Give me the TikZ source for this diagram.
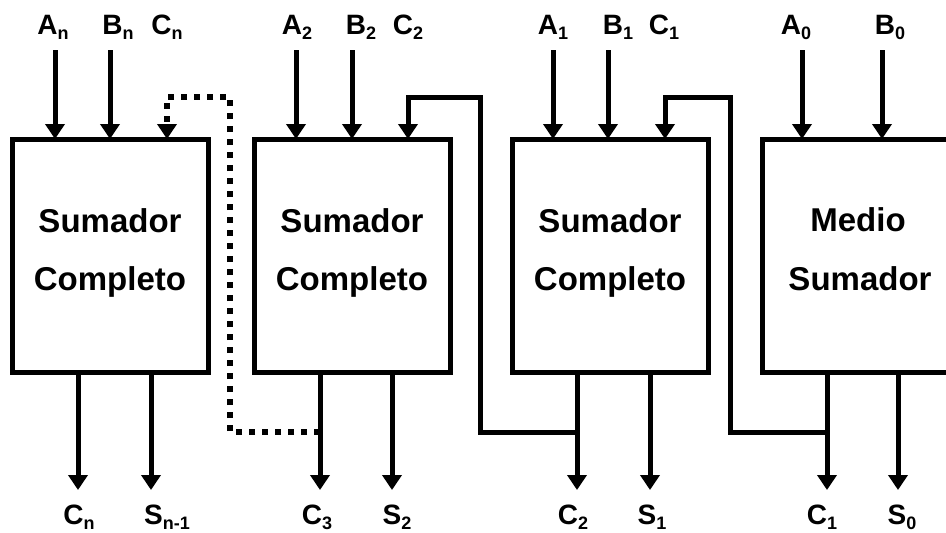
\documentclass[tikz,border=0pt]{standalone}
\usepackage{fontspec}
\setmainfont{Liberation Sans}
\usetikzlibrary{arrows.meta}
\tikzset{
 blk/.style={draw, line width=5pt, minimum width=196pt, minimum height=233pt, inner sep=0pt, outer sep=0pt},
 btxt/.style={anchor=base, inner sep=0pt, font=\fontsize{33}{40}\selectfont\bfseries},
 wire/.style={line width=5pt, line join=miter},
 sig/.style={wire, -{Triangle[width=19pt,length=15pt]}},
 dotwire/.style={line width=6pt, dash pattern=on 6pt off 7pt, -{Triangle[width=19pt,length=15pt]}},
 lbl/.style={anchor=base, inner sep=0pt, font=\fontsize{28}{32}\selectfont\bfseries},
}
\newcommand{\sbx}[1]{\raisebox{-5pt}{\fontsize{18}{18}\selectfont #1}}
\begin{document}
\begin{tikzpicture}[x=1pt,y=-1pt]
\useasboundingbox (0,0) rectangle (946,533);
\clip (0,0) rectangle (946,533);
% blocks
\node[blk] (b1) at (110,255.5) {};
\node[blk] (b2) at (352,255.5) {};
\node[blk] (b3) at (610,255.5) {};
\node[blk] (b4) at (860,255.5) {};
\node[btxt] (t1a) at (110,232) {Sumador};
\node[btxt] (t1b) at (110,290) {Completo};
\node[btxt] (t2a) at (352,232) {Sumador};
\node[btxt] (t2b) at (352,290) {Completo};
\node[btxt] (t3a) at (610,232) {Sumador};
\node[btxt] (t3b) at (610,290) {Completo};
\node[btxt] (t4a) at (858,231) {Medio};
\node[btxt] (t4b) at (860,290) {Sumador};
% top labels
\node[lbl] (tA1) at (53,34) {A\sbx{n}};
\node[lbl] (tB1) at (118,34) {B\sbx{n}};
\node[lbl] (tC1) at (167,34) {C\sbx{n}};
\node[lbl] (tA2) at (297,34) {A\sbx{2}};
\node[lbl] (tB2) at (361,34) {B\sbx{2}};
\node[lbl] (tC2) at (408,34) {C\sbx{2}};
\node[lbl] (tA3) at (553,34) {A\sbx{1}};
\node[lbl] (tB3) at (618,34) {B\sbx{1}};
\node[lbl] (tC3) at (664,34) {C\sbx{1}};
\node[lbl] (tA4) at (796,34) {A\sbx{0}};
\node[lbl] (tB4) at (890,34) {B\sbx{0}};
% bottom labels
\node[lbl] (bC1) at (79,524) {C\sbx{n}};
\node[lbl] (bS1) at (167,524) {S\sbx{n-1}};
\node[lbl] (bC2) at (317,524) {C\sbx{3}};
\node[lbl] (bS2) at (397,524) {S\sbx{2}};
\node[lbl] (bC3) at (573,524) {C\sbx{2}};
\node[lbl] (bS3) at (652,524) {S\sbx{1}};
\node[lbl] (bC4) at (822,524) {C\sbx{1}};
\node[lbl] (bS4) at (902,524) {S\sbx{0}};
% input arrow starts
\coordinate (i1a) at (55,50);
\coordinate (i1b) at (110,50);
\coordinate (i2a) at (296,50);
\coordinate (i2b) at (352,50);
\coordinate (i3a) at (553,50);
\coordinate (i3b) at (608,50);
\coordinate (i4a) at (802,50);
\coordinate (i4b) at (882,50);
\foreach \c/\b in {i1a/b1,i1b/b1,i2a/b2,i2b/b2,i3a/b3,i3b/b3,i4a/b4,i4b/b4}
  \draw[sig] (\c) -- (\c |- \b.north);
% output arrow tips
\coordinate (o1c) at (78,490);
\coordinate (o1s) at (151,490);
\coordinate (o2c) at (320,490);
\coordinate (o2s) at (392,490);
\coordinate (o3c) at (577,490);
\coordinate (o3s) at (650,490);
\coordinate (o4c) at (827,490);
\coordinate (o4s) at (898,490);
\foreach \c/\b in {o1c/b1,o1s/b1,o2c/b2,o2s/b2,o3c/b3,o3s/b3,o4c/b4,o4s/b4}
  \draw[sig] (\c |- \b.south) -- (\c);
% carry routing
\coordinate (j2) at (320,432);
\coordinate (j3) at (577,432);
\coordinate (j4) at (827,432);
\coordinate (r1) at (230,97);
\coordinate (r2) at (480,97);
\coordinate (r3) at (730,97);
\coordinate (k1) at (167,97);
\coordinate (k2) at (408,97);
\coordinate (k3) at (665,97);
\draw[dotwire] (j2) -| (r1) -- (k1) -- (k1 |- b1.north);
\draw[sig] (j3) -| (r2) -- (k2) -- (k2 |- b2.north);
\draw[sig] (j4) -| (r3) -- (k3) -- (k3 |- b3.north);
\end{tikzpicture}
\end{document}
